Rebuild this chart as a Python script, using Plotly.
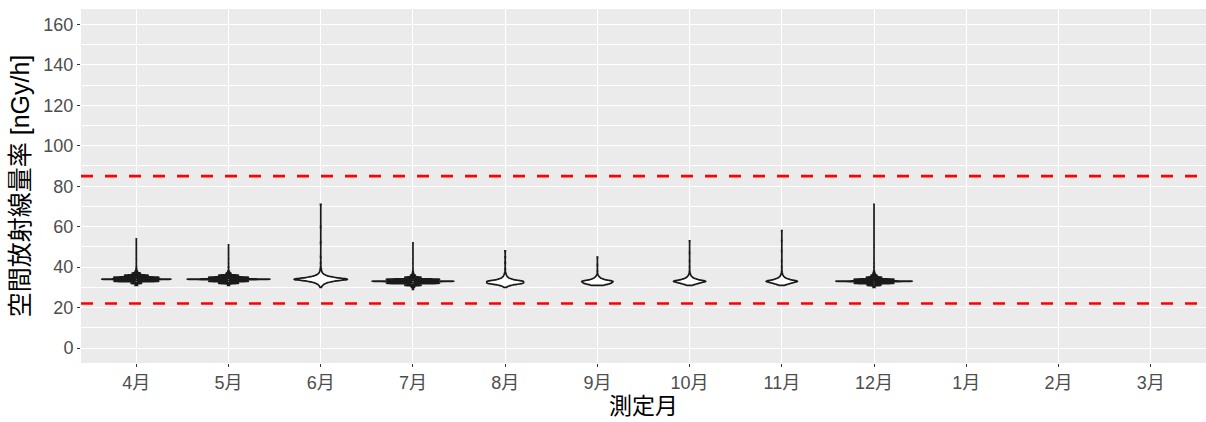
import numpy as np
import plotly.graph_objects as go

# ---- data ----
months = ["4月", "5月", "6月", "7月", "8月", "9月", "10月", "11月", "12月", "1月", "2月", "3月"]

# dose-rate values [nGy/h] and how often each occurs, per month
apr_vals = [31, 32, 33, 34, 35, 36, 37, 38, 39, 40, 42, 44, 46, 48, 50, 52, 54]
apr_cnts = [30, 150, 650, 1000, 650, 340, 120, 40, 15, 8, 4, 3, 2, 2, 1, 1, 1]
may_vals = [31, 32, 33, 34, 35, 36, 37, 38, 40, 42, 44, 46, 48, 51]
may_cnts = [20, 240, 480, 1000, 480, 240, 60, 20, 8, 4, 3, 2, 1, 1]
jun_vals = [30, 31, 32, 33, 34, 35, 36, 37, 38, 39, 40, 42, 45, 52, 60, 71]
jun_cnts = [2, 6, 15, 40, 100, 40, 15, 6, 3, 2, 1, 1, 1, 1, 1, 1]
jul_vals = [29, 30, 31, 32, 33, 34, 35, 36, 37, 38, 40, 42, 45, 48, 52]
jul_cnts = [10, 40, 200, 650, 1000, 650, 200, 60, 20, 8, 4, 3, 2, 1, 1]
aug_vals = [30, 31, 32, 33, 34, 35, 36, 37, 39, 42, 45, 48]
aug_cnts = [3, 15, 60, 60, 20, 8, 4, 2, 1, 1, 1, 1]
sep_vals = [31, 32, 33, 34, 35, 36, 38, 41, 45]
sep_cnts = [20, 50, 60, 20, 8, 3, 1, 1, 1]
oct_vals = [31, 32, 33, 34, 35, 36, 37, 38, 40, 43, 47, 53]
oct_cnts = [10, 40, 80, 30, 12, 5, 2, 1, 1, 1, 1, 1]
nov_vals = [31, 32, 33, 34, 35, 36, 37, 38, 40, 43, 48, 53, 58]
nov_cnts = [10, 40, 80, 30, 12, 5, 2, 1, 1, 1, 1, 1, 1]
dec_vals = [30, 31, 32, 33, 34, 35, 36, 37, 38, 40, 42, 45, 50, 55, 60, 65, 71]
dec_cnts = [20, 180, 520, 1000, 520, 200, 80, 30, 12, 6, 4, 3, 2, 2, 1, 1, 1]

upper_ref = 85
lower_ref = 22

y_ticks = [0, 20, 40, 60, 80, 100, 120, 140, 160]

# ---- style ----
series = [
    ("4月", apr_vals, apr_cnts),
    ("5月", may_vals, may_cnts),
    ("6月", jun_vals, jun_cnts),
    ("7月", jul_vals, jul_cnts),
    ("8月", aug_vals, aug_cnts),
    ("9月", sep_vals, sep_cnts),
    ("10月", oct_vals, oct_cnts),
    ("11月", nov_vals, nov_cnts),
    ("12月", dec_vals, dec_cnts),
]
violin_width = {"4月": 0.75, "5月": 0.90, "6月": 0.58, "7月": 0.89, "8月": 0.40,
                "9月": 0.34, "10月": 0.35, "11月": 0.34, "12月": 0.83}
violin_bw = {"4月": 0.16, "5月": 0.16, "6月": 0.5, "7月": 0.16, "8月": 0.5,
             "9月": 0.5, "10月": 0.5, "11月": 0.5, "12月": 0.16}

FONT = "Arial, 'Liberation Sans', 'Noto Sans CJK JP', sans-serif"

fig = go.Figure()
for name, vals, cnts in series:
    y = np.repeat(np.array(vals, dtype=float), cnts)
    fig.add_trace(go.Violin(
        x=[name] * len(y), y=y, name=name,
        width=violin_width[name], bandwidth=violin_bw[name],
        spanmode="hard", scalemode="width",
        line=dict(color="#1a1a1a", width=1.7), fillcolor="white",
        points=False, box_visible=False, meanline_visible=False,
        hoverinfo="skip", showlegend=False,
    ))

for v in (upper_ref, lower_ref):
    fig.add_shape(type="line", xref="paper", x0=0, x1=1, yref="y", y0=v, y1=v,
                  line=dict(color="#FF0000", width=2.6, dash="12px,12px"), layer="above")

fig.update_layout(
    width=1206, height=422,
    margin=dict(l=81, r=0, t=9, b=59, autoexpand=False),
    paper_bgcolor="white", plot_bgcolor="#EBEBEB",
    violinmode="overlay",
    font=dict(family=FONT, color="#4D4D4D"),
    showlegend=False,
)
fig.update_xaxes(
    type="category", categoryorder="array", categoryarray=months,
    tickmode="array", tickvals=months, ticktext=months,
    range=[-0.6, 11.6], showgrid=True, gridcolor="white", gridwidth=1.3,
    ticks="outside", ticklen=3, tickwidth=1, tickcolor="#333333",
    tickfont=dict(size=18, color="#4D4D4D"),
    title=dict(text="測定月", font=dict(size=23, color="black"), standoff=0),
    zeroline=False, showline=False, automargin=False,
)
fig.update_yaxes(
    range=[-7.4, 167.6], tickmode="array", tickvals=y_ticks,
    showgrid=True, gridcolor="white", gridwidth=1.3,
    minor=dict(tickmode="array", tickvals=[10, 30, 50, 70, 90, 110, 130, 150],
               showgrid=True, gridcolor="white", gridwidth=0.6, ticks=""),
    ticks="outside", ticklen=3, tickwidth=1, tickcolor="#333333",
    tickfont=dict(size=18, color="#4D4D4D"),
    title=dict(text="空間放射線量率 [nGy/h]", font=dict(size=25, color="black"), standoff=6),
    zeroline=False, showline=False, automargin=False,
)

fig.write_html("out.html", config={"displayModeBar": False},
               post_script="document.body.style.margin='0';")
